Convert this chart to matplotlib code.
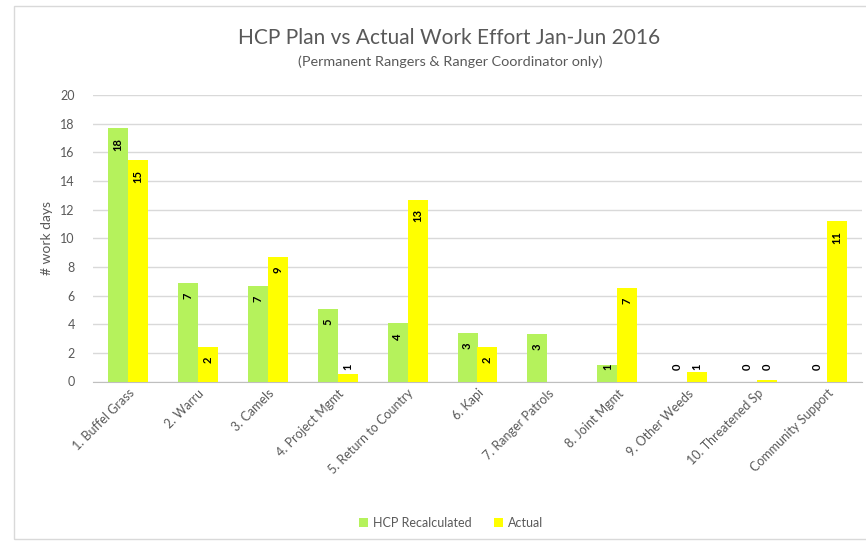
import numpy as np
import matplotlib
matplotlib.use("Agg")
import matplotlib.pyplot as plt
from matplotlib.patches import Rectangle

categories = ["1. Buffel Grass", "2. Warru", "3. Camels", "4. Project Mgmt",
              "5. Return to Country", "6. Kapi", "7. Ranger Patrols",
              "8. Joint Mgmt", "9. Other Weeds", "10. Threatened Sp",
              "Community Support"]
hcp = [17.7, 6.9, 6.7, 5.05, 4.05, 3.4, 3.35, 1.15, 0.0, 0.0, 0.0]
actual = [15.45, 2.4, 8.7, 0.55, 12.7, 2.4, np.nan, 6.55, 0.65, 0.12, 11.2]
series_names = ["HCP Recalculated", "Actual"]
yticks = [0, 2, 4, 6, 8, 10, 12, 14, 16, 18, 20]

GREEN = "#b5f25c"
YELLOW = "#ffff00"
GREY = "#595959"

plt.rcParams['font.family'] = ['Lato', 'DejaVu Sans']

fig = plt.figure(figsize=(8.66, 5.43), dpi=100)
fig.patch.set_facecolor("white")
# outer chart border (right edge runs off the image)
fig.add_artist(Rectangle((14/866, 1-539/543), 900/866, 533/543,
                         transform=fig.transFigure, fill=False,
                         edgecolor="#d9d9d9", linewidth=1.0))

ax = fig.add_axes([93/866, 1-381.5/543, 769/866, 286.5/543])
x = np.arange(len(categories))
w = 0.285
b1 = ax.bar(x - w/2, hcp, width=w, color=GREEN, label=series_names[0], zorder=3)
b2 = ax.bar(x + w/2, actual, width=w, color=YELLOW, label=series_names[1], zorder=3)

def add_labels(xs, vals):
    for xi, v in zip(xs, vals):
        if np.isnan(v):
            continue
        ypos = max(v, 1.95)
        ax.annotate(f"{int(np.floor(v + 0.5))}", xy=(xi, ypos), xytext=(0, -7),
                    textcoords="offset points", rotation=90, ha="center",
                    va="top", fontsize=8, fontweight="bold", color="black",
                    zorder=4)

add_labels(x - w/2, hcp)
add_labels(x + w/2, actual)

ax.set_xlim(-0.5, len(categories) - 0.5)
ax.set_ylim(0, 20)
ax.set_yticks(yticks)
ax.set_yticklabels([str(t) for t in yticks])
ax.yaxis.grid(True, color="#d9d9d9", linewidth=1.0, zorder=0)
ax.set_axisbelow(True)
for s in ["top", "right", "left"]:
    ax.spines[s].set_visible(False)
ax.spines["bottom"].set_color("#bfbfbf")
ax.tick_params(axis="y", length=0, pad=13, labelsize=9, labelcolor=GREY)
ax.tick_params(axis="x", length=0, pad=4, labelsize=9, labelcolor=GREY)
ax.set_xticks(x)
ax.set_xticklabels(categories, rotation=45, ha="right", rotation_mode="anchor")
ax.set_ylabel("# work days", fontsize=10, color=GREY, labelpad=5)

fig.text(449/866, 1-38/543, "HCP Plan vs Actual Work Effort Jan-Jun 2016",
         ha="center", va="center", fontsize=15, color=GREY)
fig.text(450/866, 1-62/543, "(Permanent Rangers & Ranger Coordinator only)",
         ha="center", va="center", fontsize=10.4, color=GREY)

leg = fig.legend(handles=[b1, b2], labels=series_names, loc="center",
                 bbox_to_anchor=(451/866, 1-523/543), ncol=2, frameon=False,
                 fontsize=9, handlelength=0.7, handleheight=0.7,
                 handletextpad=0.4, columnspacing=1.8)
for t in leg.get_texts():
    t.set_color(GREY)

fig.savefig("out.png", dpi=100, facecolor="white")
